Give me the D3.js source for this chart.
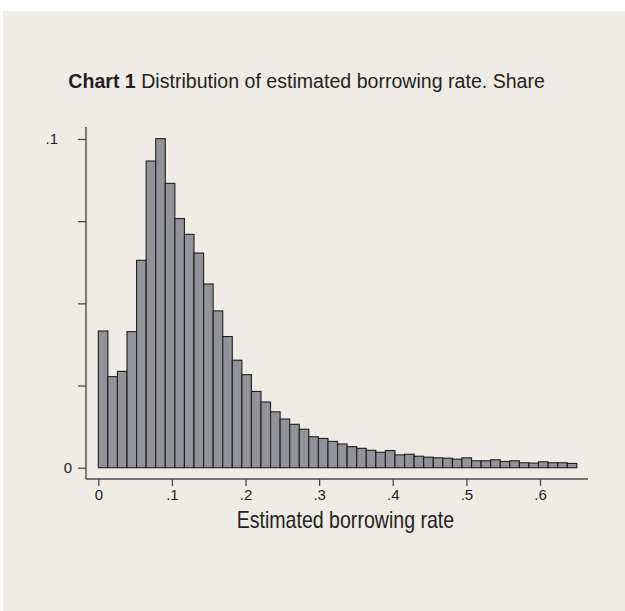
<!DOCTYPE html>
<html>
<head>
<meta charset="utf-8">
<script src="https://cdn.jsdelivr.net/npm/d3@7"></script>
<style>
  body { margin: 0; background: #ffffff; }
  svg { display: block; }
  text { fill: #231f20; }
</style>
</head>
<body>
<div id="chart"></div>
<script>
// histogram bins: share of observations per bin of the estimated rate
const binStart = 0;
const binWidth = 0.013;
const shares = [
  0.0416, 0.0277, 0.0293, 0.0414, 0.0631, 0.0933, 0.1001, 0.0865, 0.0758, 0.0710,
  0.0653, 0.0559, 0.0477, 0.0399, 0.0327, 0.0283, 0.0232, 0.0200, 0.0170, 0.0148,
  0.0132, 0.0117, 0.0094, 0.0089, 0.0080, 0.0072, 0.0064, 0.0059, 0.0053, 0.0047,
  0.0052, 0.0039, 0.0041, 0.0035, 0.0032, 0.0030, 0.0029, 0.0026, 0.0030, 0.0021,
  0.0021, 0.0024, 0.0019, 0.0021, 0.0015, 0.0014, 0.0018, 0.0015, 0.0015, 0.0013
];
const xTicks = [0, 0.1, 0.2, 0.3, 0.4, 0.5, 0.6];
const xTickLabels = ["0", ".1", ".2", ".3", ".4", ".5", ".6"];
const yTicks = [0, 0.025, 0.05, 0.075, 0.1];
const yTickLabels = ["0", "", "", "", ".1"];

const titleBold = "Chart 1";
const titleRest = " Distribution of estimated borrowing rate. Share";
const xTitle = "Estimated borrowing rate";

const W = 625, H = 611;
const svg = d3.select("#chart").append("svg")
    .attr("width", W)
    .attr("height", H);

// beige panel
svg.append("rect")
    .attr("x", 3).attr("y", 11)
    .attr("width", W - 3).attr("height", H - 11)
    .attr("fill", "#efece5");

// scales
const x = d3.scaleLinear().domain([0, 0.6]).range([98.3, 540]);
const y = d3.scaleLinear().domain([0, 0.1]).range([467.7, 139]);

const bins = shares.map((v, i) => ({
    x0: binStart + i * binWidth,
    x1: binStart + (i + 1) * binWidth,
    v
}));

// bars
svg.append("g")
    .selectAll("rect")
    .data(bins)
    .join("rect")
    .attr("x", d => x(d.x0))
    .attr("y", d => y(d.v))
    .attr("width", d => x(d.x1) - x(d.x0))
    .attr("height", d => y(0) - y(d.v))
    .attr("fill", "#929398")
    .attr("stroke", "#1e1e1e")
    .attr("stroke-width", 1.1);

// axes lines (extend past the data like the original)
const axisColor = "#4a4a4a";
svg.append("line")
    .attr("x1", 86).attr("x2", 86)
    .attr("y1", 127).attr("y2", 479)
    .attr("stroke", axisColor).attr("stroke-width", 1.4);
svg.append("line")
    .attr("x1", 86).attr("x2", 588)
    .attr("y1", 479).attr("y2", 479)
    .attr("stroke", axisColor).attr("stroke-width", 1.4);

// x axis
const xAxis = d3.axisBottom(x)
    .tickValues(xTicks)
    .tickFormat((d, i) => xTickLabels[i])
    .tickSize(7)
    .tickPadding(3);
const gx = svg.append("g")
    .attr("transform", "translate(0,479)")
    .call(xAxis);
gx.select(".domain").remove();
gx.selectAll("line").attr("stroke", axisColor).attr("stroke-width", 1.3);
gx.selectAll("text")
    .attr("font-family", "Liberation Sans, Arial, sans-serif")
    .attr("font-size", 15)
    .attr("fill", "#333");

// y axis
const yAxis = d3.axisLeft(y)
    .tickValues(yTicks)
    .tickFormat((d, i) => yTickLabels[i])
    .tickSize(8)
    .tickPadding(6);
const gy = svg.append("g")
    .attr("transform", "translate(86,0)")
    .call(yAxis);
gy.select(".domain").remove();
gy.selectAll("line").attr("stroke", axisColor).attr("stroke-width", 1.3);
gy.selectAll("text")
    .attr("font-family", "Liberation Sans, Arial, sans-serif")
    .attr("font-size", 15)
    .attr("fill", "#333");
// the ".1" label sits further out in the original
gy.selectAll(".tick text").filter((d) => d === 0.1).attr("dx", -14);

// fit text to a target width by squeezing horizontally
function fitWidth(sel, x0, targetW) {
    const w = sel.node().getBBox().width;
    sel.attr("transform", `translate(${x0},0) scale(${targetW / w},1) translate(${-x0},0)`);
}

// title
const title = svg.append("text")
    .attr("x", 68.3).attr("y", 88)
    .attr("font-family", "Liberation Sans Narrow, Arial Narrow, Liberation Sans, Arial, sans-serif")
    .attr("font-size", 20);
title.append("tspan").attr("font-weight", "bold").text(titleBold);
title.append("tspan").text(titleRest);
fitWidth(title, 68.3, 477);

// x title
const xt = svg.append("text")
    .attr("x", 236.7).attr("y", 528)
    .attr("font-family", "Liberation Sans Narrow, Arial Narrow, Liberation Sans, Arial, sans-serif")
    .attr("font-size", 23)
    .text(xTitle);
fitWidth(xt, 236.7, 217.6);
</script>
</body>
</html>
